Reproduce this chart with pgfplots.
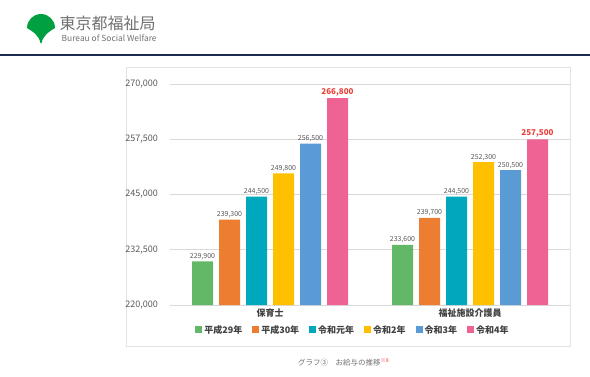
\documentclass[border=0pt]{standalone}
\usepackage{fontspec}
\setmainfont{Noto Sans CJK JP}
\usepackage{pgfplots}
\usepackage{pgfplotstable}
\pgfplotsset{compat=1.18}
\definecolor{cGreen}{HTML}{62B866}
\definecolor{cOrange}{HTML}{ED7D31}
\definecolor{cTeal}{HTML}{00A8BE}
\definecolor{cYellow}{HTML}{FFC000}
\definecolor{cBlue}{HTML}{5B9BD5}
\definecolor{cPink}{HTML}{EE6394}
\definecolor{cRed}{HTML}{E8413A}
\definecolor{txtGray}{HTML}{595959}
\definecolor{txtDark}{HTML}{404040}
\definecolor{gridGray}{HTML}{D9D9D9}
\definecolor{boxGray}{HTML}{E3E3E3}
\definecolor{navy}{HTML}{1B2A4E}
\definecolor{logoGreen}{HTML}{00A040}
\definecolor{hdrGray}{HTML}{707070}
\pgfplotsset{/pgfplots/ybar legend/.style={/pgfplots/legend image code/.code={\fill[##1] (0pt,-3.5pt) rectangle (7pt,3.5pt);}}}
\pgfplotstableread{
x h29 h30 r1 r2 r3 r4
0 229900 239300 244500 249800 256500 266800
1 233600 239700 244500 252300 250500 257500
}\salary
\begin{document}
\begin{tikzpicture}
\useasboundingbox (0pt,0pt) rectangle (590pt,-376pt);
% header
\fill[logoGreen] (27pt,-28pt) arc[start angle=180,end angle=0,radius=14pt]
  .. controls (50pt,-31pt) and (43pt,-35pt) .. (41.6pt,-43pt) -- (40.4pt,-43pt)
  .. controls (39pt,-35pt) and (32pt,-31pt) .. (27pt,-28pt) -- cycle;
\node[anchor=west, font=\fontsize{16}{18}\selectfont, text=hdrGray, inner sep=0pt] at (59.5pt,-23.5pt) {東京都福祉局};
\node[anchor=west, font=\fontsize{8.4}{10}\selectfont, text=hdrGray, inner sep=0pt] at (61.5pt,-38pt) {Bureau of Social Welfare};
\fill[navy] (0pt,-53.5pt) rectangle (590pt,-56pt);
% chart box
\draw[boxGray, line width=0.6pt] (126pt,-67pt) rectangle (570pt,-346pt);
\begin{axis}[
  at={(170pt,-305pt)}, anchor=south west,
  scale only axis, width=400pt, height=221pt,
  xmin=-0.5, xmax=1.5, ymin=220000, ymax=270000,
  ybar=6pt, bar width=21pt,
  xtick={0,1}, xticklabels={保育士,福祉施設介護員},
  ytick={220000,232500,245000,257500,270000},
  ymajorgrids, grid style={draw=gridGray, line width=0.8pt},
  axis line style={draw=none},
  major tick length=0pt,
  scaled y ticks=false,
  yticklabel style={/pgf/number format/.cd, fixed, 1000 sep={,}, assume math mode=true, /tikz/.cd,
     font=\fontsize{9}{10}\selectfont, text=txtGray, anchor=east, inner sep=0pt, xshift=-12pt},
  xticklabel style={font=\fontsize{9}{11}\selectfont\bfseries, text=txtDark, anchor=north, inner sep=0pt, yshift=-4pt},
  nodes near coords, point meta=y,
  nodes near coords style={/pgf/number format/.cd, fixed, 1000 sep={,}, assume math mode=true, /tikz/.cd,
     font=\fontsize{7}{8}\selectfont, text=txtGray, inner sep=1.5pt},
  clip=false,
  legend columns=6,
  legend style={at={(0.4575,-0.113)}, anchor=center, draw=none, fill=none,
     font=\fontsize{9}{10}\selectfont\bfseries, text=txtDark,
     /tikz/every even column/.append style={column sep=8pt}},
]
\addplot[fill=cGreen, draw=none] table[x=x,y=h29]{\salary};
\addplot[fill=cOrange, draw=none] table[x=x,y=h30]{\salary};
\addplot[fill=cTeal, draw=none] table[x=x,y=r1]{\salary};
\addplot[fill=cYellow, draw=none] table[x=x,y=r2]{\salary};
\addplot[fill=cBlue, draw=none] table[x=x,y=r3]{\salary};
\addplot[fill=cPink, draw=none, nodes near coords style={font=\fontsize{8}{9}\selectfont\bfseries, text=cRed, inner sep=2pt}] table[x=x,y=r4]{\salary};
\legend{平成29年,平成30年,令和元年,令和2年,令和3年,令和4年}
\end{axis}
\node[anchor=west, font=\fontsize{7.5}{9}\selectfont, text=hdrGray, inner sep=0pt] at (298pt,-362pt) {グラフ③　お給与の推移\textsuperscript{\textcolor{cRed}{※8}}};
\end{tikzpicture}
\end{document}
